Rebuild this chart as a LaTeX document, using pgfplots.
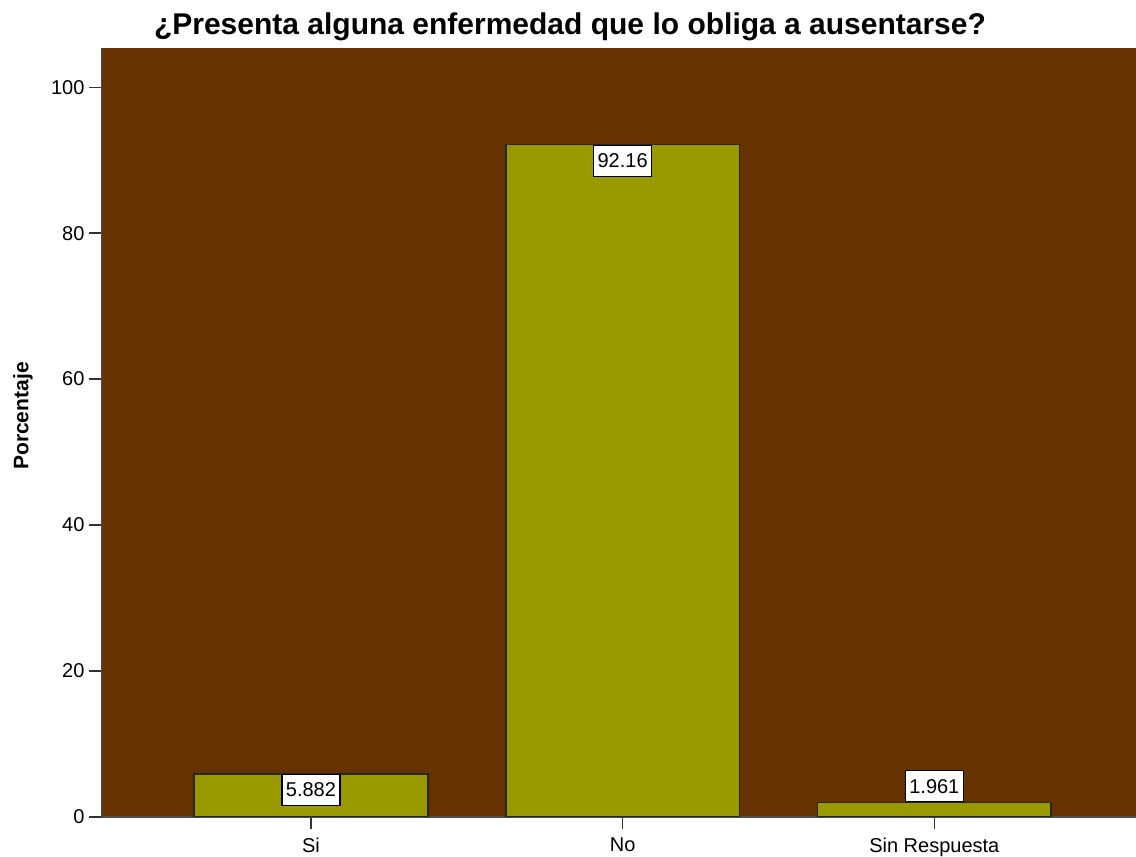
\documentclass[border=0pt]{standalone}
\usepackage{pgfplots}
\pgfplotsset{compat=1.18}
\usepackage{fontspec}
\setmainfont{Liberation Sans}
\definecolor{bgbrown}{HTML}{663300}
\definecolor{barolive}{HTML}{999900}
\begin{document}
\begin{tikzpicture}
\useasboundingbox (0,0) rectangle (568pt,428.5pt);
\begin{axis}[
  at={(50.75pt,20.15pt)}, anchor=south west,
  scale only axis,
  width=517.25pt, height=384.35pt,
  xmin=-0.672, xmax=2.647,
  ymin=0, ymax=105.4,
  axis x line*=bottom, axis y line*=left,
  axis line style={draw=black!70, line width=0.8pt, -},
  axis background/.style={fill=bgbrown},
  xtick={0,1,2},
  xticklabels={Si,No,Sin Respuesta},
  ytick={0,20,40,60,80,100},
  tick style={draw=black!80, line width=0.8pt},
  major tick length=6pt,
  tick align=outside,
  ticklabel style={font=\fontsize{10}{12}\selectfont},
  /pgf/number format/assume math mode=true,
  xticklabel style={yshift=-1pt},
  yticklabel style={xshift=1pt},
  ybar, bar width=116.75pt,
  point meta=explicit symbolic,
  every node near coord/.style={font=\fontsize{10}{12}\selectfont, fill=white, draw=black, line width=0.6pt, inner xsep=2pt, inner ysep=4.3pt, text=black},
]
\addplot[fill=barolive, draw=black!85, line width=0.8pt, bar shift=0pt,
  nodes near coords, nodes near coords align={anchor=north}] coordinates {(0,5.882) [5.882]};
\addplot[fill=barolive, draw=black!85, line width=0.8pt, bar shift=0pt,
  nodes near coords, nodes near coords align={anchor=north}] coordinates {(1,92.16) [92.16]};
\addplot[fill=barolive, draw=black!85, line width=0.8pt, bar shift=0pt,
  nodes near coords, nodes near coords align={anchor=south}] coordinates {(2,1.961) [1.961]};
\end{axis}
\node[anchor=base, font=\bfseries\fontsize{15}{18}\selectfont] at (285pt,411pt) {¿Presenta alguna enfermedad que lo obliga a ausentarse?};
\node[rotate=90, font=\bfseries\fontsize{10.5}{12}\selectfont] at (11.5pt,220.5pt) {Porcentaje};
\end{tikzpicture}
\end{document}
